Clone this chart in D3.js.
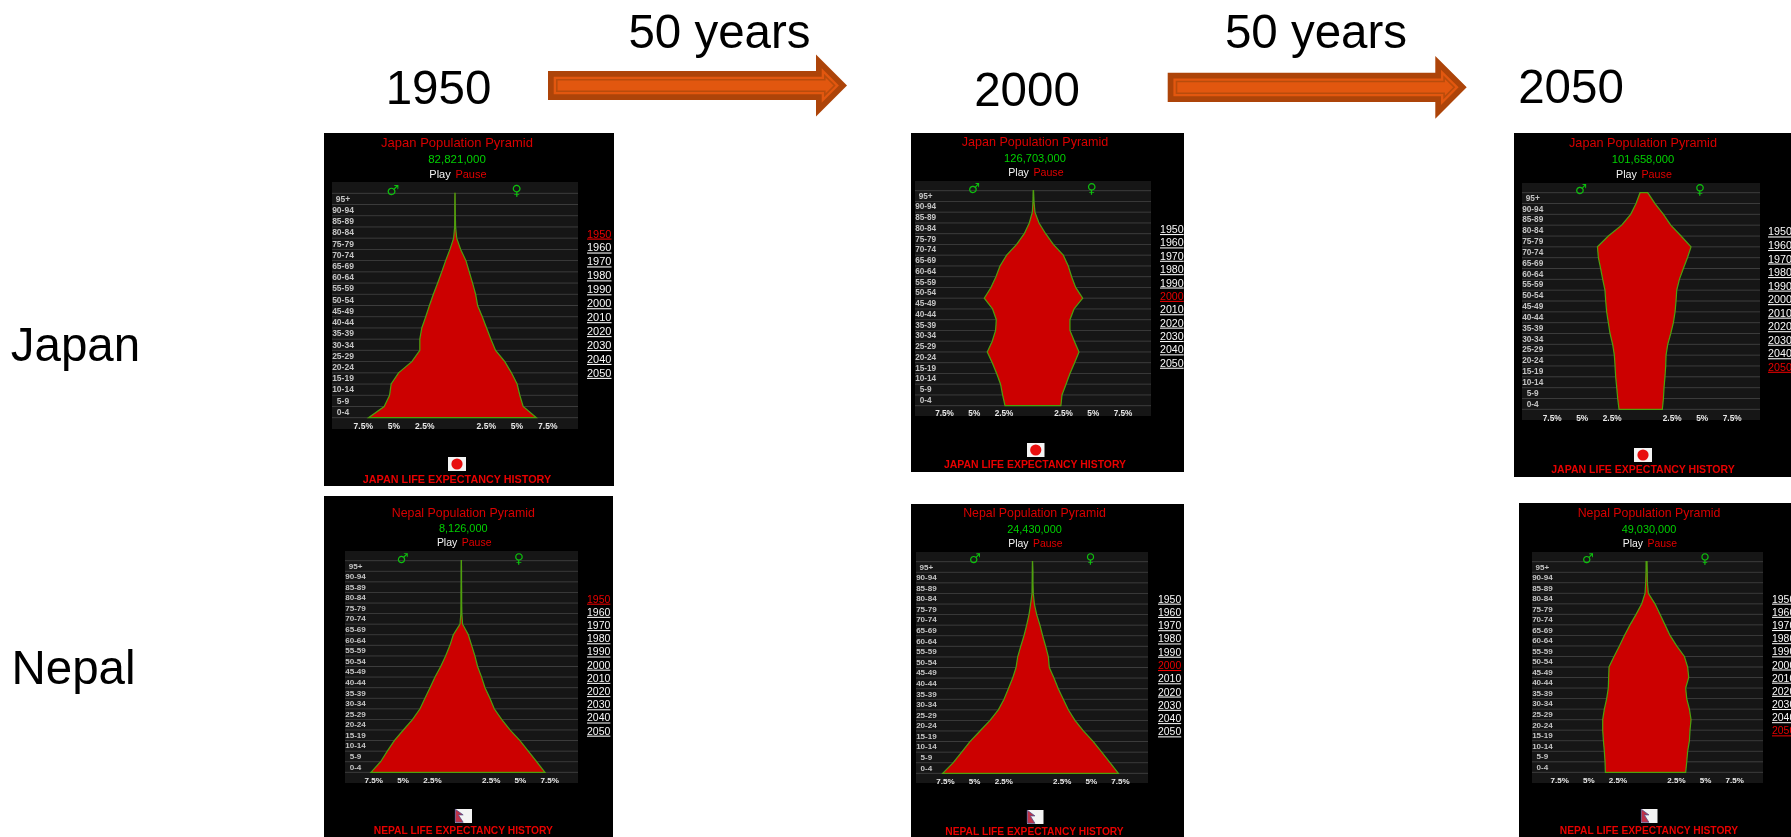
<!DOCTYPE html>
<html>
<head>
<meta charset="utf-8">
<style>
  html, body { margin: 0; padding: 0; background: #fff; overflow: hidden; }
  text { font-family: "Liberation Sans", Arial, sans-serif; }
</style>
<script src="https://cdn.jsdelivr.net/npm/d3@7"></script>
</head>
<body>
<svg id="canvas" width="1791" height="837"></svg>
<script>
const ages = ['0-4', '5-9', '10-14', '15-19', '20-24', '25-29', '30-34', '35-39', '40-44', '45-49',
  '50-54', '55-59', '60-64', '65-69', '70-74', '75-79', '80-84', '85-89', '90-94', '95+'];
const years = ['1950', '1960', '1970', '1980', '1990', '2000', '2010', '2020', '2030', '2040', '2050'];
const ticks = [-7.5, -5, -2.5, 2.5, 5, 7.5];

// percent of population at each age band edge, baseline first, top edge last
const japan1950Male = [7.03, 5.76, 5.32, 5.19, 4.59, 3.51, 2.86, 2.86, 2.70, 2.38, 2.08, 1.76, 1.41, 1.08, 0.76, 0.41, 0.11, 0.03, 0.02, 0.02, 0.01];
const japan1950Female = [6.62, 5.54, 5.27, 5.05, 4.59, 4.05, 3.30, 2.92, 2.57, 2.22, 1.84, 1.68, 1.43, 1.16, 0.89, 0.46, 0.14, 0.05, 0.03, 0.02, 0.01];
const japan2000Male = [2.38, 2.58, 2.75, 3.08, 3.45, 3.87, 3.45, 3.17, 3.11, 3.42, 4.12, 3.56, 3.14, 2.80, 2.24, 1.40, 0.76, 0.34, 0.08, 0.03, 0.01];
const japan2000Female = [2.32, 2.41, 2.75, 3.08, 3.47, 3.84, 3.45, 3.08, 3.08, 3.42, 4.15, 3.56, 3.22, 2.94, 2.52, 1.68, 1.04, 0.48, 0.14, 0.06, 0.02];
const japan2050Male = [1.89, 2.00, 2.08, 2.17, 2.22, 2.28, 2.42, 2.64, 2.78, 2.92, 3.00, 3.06, 3.25, 3.42, 3.61, 3.69, 2.78, 1.67, 0.92, 0.47, 0.14];
const japan2050Female = [1.72, 1.81, 1.86, 1.94, 2.00, 2.03, 2.17, 2.42, 2.64, 2.78, 2.86, 2.92, 3.14, 3.47, 3.81, 4.11, 3.28, 2.42, 1.81, 1.11, 0.50];
const nepal1950Male = [7.70, 6.88, 6.31, 5.71, 4.94, 4.15, 3.52, 3.10, 2.67, 2.24, 1.76, 1.34, 0.97, 0.68, 0.11, 0.04, 0.03, 0.03, 0.02, 0.02, 0.01];
const nepal1950Female = [7.13, 6.42, 5.71, 5.00, 4.15, 3.44, 2.81, 2.44, 2.02, 1.73, 1.39, 1.16, 0.88, 0.60, 0.11, 0.05, 0.03, 0.03, 0.02, 0.02, 0.01];
const nepal2000Male = [7.70, 6.79, 6.07, 5.36, 4.50, 3.64, 2.93, 2.44, 2.07, 1.70, 1.41, 1.27, 1.01, 0.73, 0.50, 0.30, 0.16, 0.04, 0.03, 0.02, 0.01];
const nepal2000Female = [7.36, 6.64, 5.93, 5.21, 4.36, 3.64, 3.07, 2.64, 2.21, 1.84, 1.44, 1.36, 1.13, 0.87, 0.64, 0.36, 0.16, 0.07, 0.04, 0.04, 0.01];
const nepal2050Male = [3.54, 3.57, 3.63, 3.71, 3.77, 3.77, 3.63, 3.43, 3.29, 3.26, 3.23, 2.80, 2.34, 1.91, 1.43, 0.91, 0.43, 0.14, 0.09, 0.06, 0.05];
const nepal2050Female = [3.34, 3.43, 3.51, 3.66, 3.71, 3.80, 3.66, 3.43, 3.34, 3.60, 3.51, 3.23, 2.57, 2.00, 1.57, 1.14, 0.71, 0.14, 0.06, 0.05, 0.03];

const countries = ['Japan', 'Japan', 'Japan', 'Nepal', 'Nepal', 'Nepal'];
const panelYears = ['1950', '2000', '2050', '1950', '2000', '2050'];
const populations = ['82,821,000', '126,703,000', '101,658,000', '8,126,000', '24,430,000', '49,030,000'];
const males = [japan1950Male, japan2000Male, japan2050Male, nepal1950Male, nepal2000Male, nepal2050Male];
const females = [japan1950Female, japan2000Female, japan2050Female, nepal1950Female, nepal2000Female, nepal2050Female];

// where each panel sits on the page
const layouts = [
  { box: [324, 133, 614, 486], plot: [332, 182, 578, 429], base: 417.7, top: 193.3, cx: 455, k: 12.3, textX: 457,
    titleY: 142, popY: 159, playY: 174, symY: 190, maleX: 392.7, femaleX: 516.7, yearX: 587, year0: 233.7, year1: 373,
    tickY: 426, flag: [448, 457, 18, 14], lifeY: 479 },
  { box: [911, 133, 1184, 472], plot: [915, 181, 1151, 416], base: 405.7, top: 190.7, cx: 1033.3, k: 11.9, textX: 1035,
    titleY: 141.7, popY: 157.7, playY: 172, symY: 188, maleX: 974, femaleX: 1091.7, yearX: 1160, year0: 229.3, year1: 363,
    tickY: 413, flag: [1027, 443, 17.5, 14], lifeY: 464 },
  { box: [1514, 133, 1791, 477], plot: [1522, 183, 1760, 420], base: 409.3, top: 192.7, cx: 1641.7, k: 12, textX: 1643,
    titleY: 143, popY: 159, playY: 174, symY: 189.5, maleX: 1581, femaleX: 1700, yearX: 1768, year0: 231.7, year1: 367,
    tickY: 418, flag: [1634, 448, 18, 14], lifeY: 469.5 },
  { box: [324, 496, 613, 837], plot: [345, 551, 578, 783], base: 772.3, top: 560.7, cx: 461.3, k: 11.73, textX: 463.3,
    titleY: 512.7, popY: 528, playY: 542.7, symY: 558, maleX: 402.7, femaleX: 519, yearX: 587, year0: 599, year1: 731,
    tickY: 780, flag: [455, 809, 17, 14], lifeY: 830.7 },
  { box: [911, 504, 1184, 837], plot: [916, 552, 1148, 783], base: 773.3, top: 561.7, cx: 1032.5, k: 11.67, textX: 1034.5,
    titleY: 513, popY: 529, playY: 543, symY: 558, maleX: 975, femaleX: 1090.7, yearX: 1158, year0: 599, year1: 731.7,
    tickY: 781, flag: [1027, 810, 16.5, 14], lifeY: 831.7 },
  { box: [1519, 503, 1791, 837], plot: [1532, 552, 1763, 783], base: 772.3, top: 561.7, cx: 1646.7, k: 11.67, textX: 1649,
    titleY: 513, popY: 529, playY: 543, symY: 558, maleX: 1588, femaleX: 1705, yearX: 1772, year0: 599, year1: 730.7,
    tickY: 780, flag: [1641, 809, 16.5, 14], lifeY: 830 }
];

const svg = d3.select('#canvas');

svg.append('defs').append('filter')
  .attr('id', 'soft')
  .attr('x', '-5%').attr('y', '-5%').attr('width', '110%').attr('height', '110%')
  .append('feGaussianBlur')
  .attr('stdDeviation', 0.7);

const drawPanel = (i) => {
  const p = layouts[i];
  const country = countries[i];
  const fs = p.k / 12.3;
  const g = svg.append('g').attr('filter', 'url(#soft)');

  g.append('rect')
    .attr('x', p.box[0]).attr('y', p.box[1])
    .attr('width', p.box[2] - p.box[0]).attr('height', p.box[3] - p.box[1])
    .attr('fill', '#000');
  g.append('rect')
    .attr('x', p.plot[0]).attr('y', p.plot[1])
    .attr('width', p.plot[2] - p.plot[0]).attr('height', p.plot[3] - p.plot[1])
    .attr('fill', '#161616');

  const x = d3.scaleLinear().domain([-1, 1]).range([p.cx - p.k, p.cx + p.k]);
  const yEdge = d3.scaleLinear().domain([0, ages.length]).range([p.base, p.top]);
  const yBand = d3.scaleBand().domain(ages).range([p.base, p.top]);

  g.selectAll('line.grid')
    .data(d3.range(ages.length + 1))
    .enter()
    .append('line')
    .attr('x1', p.plot[0]).attr('x2', p.plot[2])
    .attr('y1', (d) => yEdge(d)).attr('y2', (d) => yEdge(d))
    .attr('stroke', '#3c3c3c')
    .attr('stroke-width', 1);

  const area = d3.area()
    .x0((d) => x(-males[i][d]))
    .x1((d) => x(females[i][d]))
    .y((d) => yEdge(d));

  g.append('path')
    .datum(d3.range(ages.length + 1))
    .attr('d', area)
    .attr('fill', '#cc0000')
    .attr('stroke', '#4fa010')
    .attr('stroke-width', 1.2);

  const ageAxis = g.append('g')
    .attr('transform', 'translate(' + (p.plot[0] + 11 * fs) + ',0)')
    .call(d3.axisLeft(yBand).tickSize(0).tickPadding(0));
  ageAxis.select('.domain').remove();
  ageAxis.selectAll('text')
    .attr('x', 0)
    .attr('text-anchor', 'middle')
    .attr('fill', '#c4c4c4')
    .style('font-size', 8.5 * fs + 'px')
    .style('font-weight', 'bold')
    .style('font-family', '"Liberation Sans", Arial, sans-serif');

  const tickAxis = g.append('g')
    .attr('transform', 'translate(0,' + (p.tickY - 3) + ')')
    .call(d3.axisBottom(x).tickValues(ticks).tickSize(0).tickPadding(0)
      .tickFormat((d) => Math.abs(d) + '%'));
  tickAxis.select('.domain').remove();
  tickAxis.selectAll('text')
    .attr('y', 0)
    .attr('dy', '0.71em')
    .attr('fill', '#e8e8e8')
    .style('font-size', 8.5 * fs + 'px')
    .style('font-weight', 'bold')
    .style('font-family', '"Liberation Sans", Arial, sans-serif');

  const label = (txt, lx, ly, size, color, bold, anchor) => g.append('text')
    .text(txt)
    .attr('x', lx).attr('y', ly)
    .attr('dy', '0.35em')
    .attr('text-anchor', anchor || 'middle')
    .attr('fill', color)
    .style('font-size', size + 'px')
    .style('font-weight', bold ? 'bold' : 'normal');

  label(country + ' Population Pyramid', p.textX, p.titleY, 13 * fs, '#d80000');
  label(populations[i], p.textX, p.popY, 11.5 * fs, '#00d000');
  label('Play', p.textX - 17 * fs, p.playY, 11 * fs, '#f4f4f4');
  label('Pause', p.textX + 14 * fs, p.playY, 11 * fs, '#e00000');
  label('\u2642', p.maleX, p.symY, 14 * fs, '#10c010').style('font-family', '"DejaVu Sans"');
  label('\u2640', p.femaleX, p.symY, 14 * fs, '#10c010').style('font-family', '"DejaVu Sans"');
  label(country.toUpperCase() + ' LIFE EXPECTANCY HISTORY', p.textX, p.lifeY, 10.8 * fs, '#e80000', true);

  const yYear = d3.scalePoint().domain(years).range([p.year0, p.year1]);
  g.selectAll('text.year')
    .data(years)
    .enter()
    .append('text')
    .attr('class', 'year')
    .text((d) => d)
    .attr('x', p.yearX)
    .attr('y', (d) => yYear(d))
    .attr('dy', '0.35em')
    .attr('fill', (d) => (d === panelYears[i] ? '#e80000' : '#f8f8f8'))
    .style('font-size', 11 * fs + 'px')
    .style('text-decoration', 'underline');

  // small flag under the chart
  const f = p.flag;
  g.append('rect').attr('x', f[0]).attr('y', f[1]).attr('width', f[2]).attr('height', f[3]).attr('fill', '#f4f4f4');
  if (country === 'Japan') {
    g.append('circle')
      .attr('cx', f[0] + f[2] / 2).attr('cy', f[1] + f[3] / 2)
      .attr('r', f[3] * 0.4)
      .attr('fill', '#e81010');
  } else {
    const fx = d3.scaleLinear().domain([0, 1]).range([f[0], f[0] + f[2]]);
    const fy = d3.scaleLinear().domain([0, 1]).range([f[1], f[1] + f[3]]);
    g.append('path')
      .attr('d', d3.line().x((d) => fx(d[0])).y((d) => fy(d[1]))([
        [0.02, 0.02], [0.48, 0.42], [0.2, 0.42], [0.48, 0.95], [0.02, 0.95], [0.02, 0.02]
      ]))
      .attr('fill', '#c0304a')
      .attr('stroke', '#50508a')
      .attr('stroke-width', 0.8);
  }
};

d3.range(layouts.length).forEach(drawPanel);

// big slide texts
const bigText = [
  ['1950', 438.5, 103.5], ['2000', 1027, 106], ['2050', 1571, 103],
  ['50 years', 719.5, 48], ['50 years', 1316, 48],
  ['Japan', 75.5, 361], ['Nepal', 73.5, 684]
];
svg.selectAll('text.big')
  .data(bigText)
  .enter()
  .append('text')
  .attr('class', 'big')
  .text((d) => d[0])
  .attr('x', (d) => d[1])
  .attr('y', (d) => d[2])
  .attr('text-anchor', 'middle')
  .attr('fill', '#000')
  .style('font-size', '47.5px');

// the two block arrows between the year headings
const arrowPoints = (a, d) => {
  const cy = a.tipY;
  const tip = a.x1 - d * Math.SQRT2;
  const bx = a.headX + d;
  const span = tip - bx;
  return [
    [a.x0 + d, a.top + d], [bx, a.top + d], [bx, cy - span], [tip, cy],
    [bx, cy + span], [bx, a.bottom - d], [a.x0 + d, a.bottom - d]
  ];
};
const arrows = [
  { x0: 548, x1: 847, headX: 816, top: 71, bottom: 100, tipY: 85.5 },
  { x0: 1167.7, x1: 1466.7, headX: 1435.3, top: 72.7, bottom: 102, tipY: 87.3 }
];
arrows.forEach((a) => {
  const poly = (d, fill, stroke) => svg.append('polygon')
    .attr('points', arrowPoints(a, d).map((q) => q.join(',')).join(' '))
    .attr('fill', fill)
    .attr('stroke', stroke || 'none')
    .attr('stroke-width', stroke ? 1.6 : 0);
  poly(0, '#ad4409');
  poly(5.7, '#e2570f');
  poly(8.8, '#e2570f', '#b84c0c');
});
</script>
</body>
</html>
